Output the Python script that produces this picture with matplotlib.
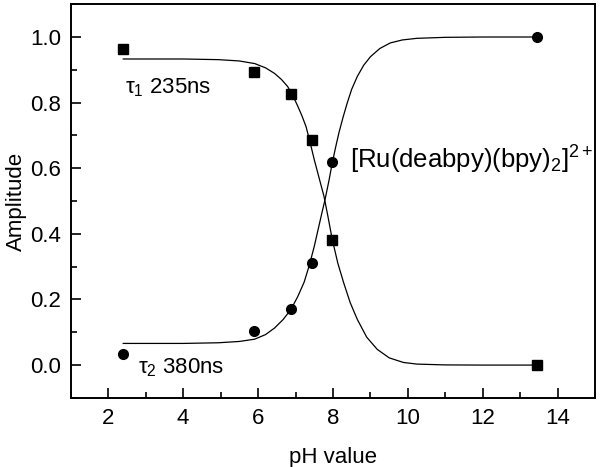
import matplotlib
matplotlib.use("Agg")
import matplotlib.pyplot as plt
from matplotlib.ticker import MultipleLocator

plt.rcParams['font.family'] = ['Liberation Sans', 'DejaVu Sans']
plt.rcParams['mathtext.fontset'] = 'custom'
plt.rcParams['mathtext.rm'] = 'Liberation Sans'
plt.rcParams['mathtext.it'] = 'Liberation Sans'

# measured data
ph = [2.4, 5.88, 6.89, 7.43, 7.98, 13.45]
tau1_amp = [0.964, 0.892, 0.827, 0.687, 0.380, 0.0]
tau2_amp = [0.033, 0.105, 0.170, 0.312, 0.618, 1.0]

# fitted curves
fit1_ph = [2.4, 4.0, 4.94, 5.5, 5.91, 6.2, 6.44, 6.62, 6.79, 6.93, 7.06, 7.17, 7.28, 7.39,
           7.50, 7.63, 7.76, 7.87, 7.98, 8.13, 8.29, 8.46, 8.65, 8.9, 9.18, 9.5, 9.88, 10.24, 11.0, 12.0, 13.45]
fit1_amp = [0.933, 0.933, 0.931, 0.927, 0.919, 0.906, 0.889, 0.871, 0.849, 0.821, 0.789, 0.760, 0.727, 0.678,
            0.626, 0.570, 0.514, 0.450, 0.383, 0.310, 0.249, 0.190, 0.139, 0.085, 0.048, 0.022, 0.008, 0.003, 0.0005, 0.0, 0.0]

fit2_ph = [2.4, 4.0, 4.94, 5.5, 5.91, 6.2, 6.44, 6.67, 6.88, 7.06, 7.23, 7.37, 7.50, 7.60, 7.70,
           7.79, 7.89, 7.98, 8.07, 8.16, 8.27, 8.38, 8.5, 8.65, 8.82, 9.0, 9.25, 9.53, 9.85, 10.24, 11.0, 12.0, 13.45]
fit2_amp = [0.066, 0.066, 0.068, 0.072, 0.079, 0.093, 0.113, 0.139, 0.170, 0.209, 0.253, 0.305, 0.362, 0.412, 0.462,
            0.506, 0.561, 0.616, 0.664, 0.709, 0.756, 0.799, 0.841, 0.880, 0.914, 0.940, 0.965, 0.982, 0.991, 0.996, 0.999, 1.0, 1.0]

x_ticks = [2, 4, 6, 8, 10, 12, 14]
y_ticks = [0.0, 0.2, 0.4, 0.6, 0.8, 1.0]

fig = plt.figure(figsize=(6.0, 4.67), dpi=100)
ax = fig.add_axes([0.118, 0.148, 0.874, 0.843])

ax.plot(fit1_ph, fit1_amp, color='black', lw=0.9)
ax.plot(fit2_ph, fit2_amp, color='black', lw=0.9)
ax.plot(ph, tau1_amp, ls='none', marker='s', ms=6.5, color='black')
ax.plot(ph, tau2_amp, ls='none', marker='o', ms=7, color='black')

ax.set_xlim(1, 15)
ax.set_ylim(-0.1, 1.1)
ax.set_xticks(x_ticks)
ax.set_yticks(y_ticks)
ax.set_yticklabels([f"{v:.1f}" for v in y_ticks])
ax.xaxis.set_minor_locator(MultipleLocator(1))
ax.yaxis.set_minor_locator(MultipleLocator(0.1))
ax.tick_params(which='both', direction='in', top=False, right=False, labelsize=16, width=1.2)
ax.tick_params(which='major', length=7, pad=7)
ax.tick_params(which='minor', length=4)
for s in ax.spines.values():
    s.set_linewidth(1.4)

ax.set_xlabel('pH value', fontsize=16, labelpad=13)
ax.set_ylabel('Amplitude', fontsize=16, labelpad=2)

ax.text(2.45, 0.845, r'$\mathregular{\tau_1}$ 235ns', fontsize=16, ha='left', va='center')
ax.text(2.8, -0.007, r'$\mathregular{\tau_2}$ 380ns', fontsize=16, ha='left', va='center')
ax.text(8.45, 0.625, r'$\mathregular{[Ru(deabpy)(bpy)_2]^{2+}}$', fontsize=18.5, ha='left', va='center')

fig.savefig('out.png', dpi=100)
